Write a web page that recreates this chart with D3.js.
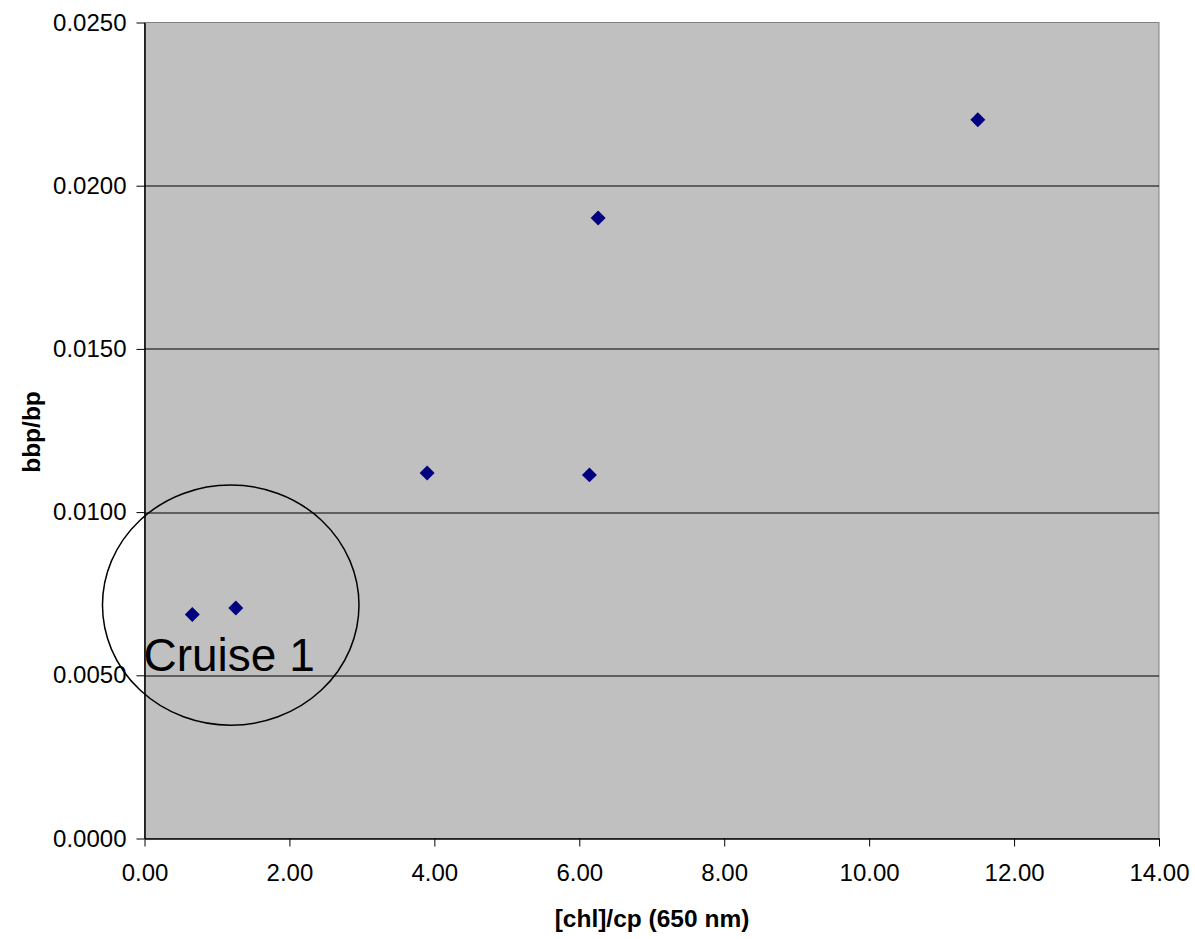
<!DOCTYPE html>
<html>
<head>
<meta charset="utf-8">
<script src="https://cdn.jsdelivr.net/npm/d3@7"></script>
<style>
  body { margin: 0; background: #fff; }
  text { font-family: "Liberation Sans", Arial, sans-serif; }
</style>
</head>
<body>
<svg width="1195" height="939"></svg>
<script>
var xValues = [0.66, 1.26, 3.90, 6.14, 6.26, 11.50];
var yValues = [0.00686, 0.00706, 0.01120, 0.01114, 0.01901, 0.02202];
var xTicks = [0, 2, 4, 6, 8, 10, 12, 14];
var yTicks = [0, 0.005, 0.01, 0.015, 0.02, 0.025];
var noteLabel = "Cruise 1";
var noteCenter = [1.19, 0.00715];
var noteRadius = [1.77, 0.00368];

var svg = d3.select("svg"),
    margin = { top: 22.5, right: 36, bottom: 100.5, left: 144.5 },
    width = +svg.attr("width") - margin.left - margin.right,
    height = +svg.attr("height") - margin.top - margin.bottom;

var x = d3.scaleLinear().domain([0, 14]).range([0, width]);
var y = d3.scaleLinear().domain([0, 0.025]).range([height, 0]);

var g = svg.append("g")
    .attr("transform", "translate(" + margin.left + "," + margin.top + ")");

// plot area
g.append("rect")
    .attr("width", width)
    .attr("height", height)
    .attr("fill", "#c0c0c0")
    .attr("stroke", "#808080")
    .attr("stroke-width", 1);

// gridlines
g.selectAll(".grid")
    .data(yTicks.filter(function (d) { return d > 0 && d < 0.025; }))
    .enter().append("line")
    .attr("x1", 0)
    .attr("x2", width)
    .attr("y1", function (d) { return Math.round(y(d)) + 0.5; })
    .attr("y2", function (d) { return Math.round(y(d)) + 0.5; })
    .attr("stroke", "#000")
    .attr("stroke-width", 1);

var xAxis = g.append("g")
    .attr("transform", "translate(0," + height + ")")
    .call(d3.axisBottom(x).tickValues(xTicks).tickFormat(d3.format(".2f")).tickSize(8).tickPadding(12).tickSizeOuter(0));

var yAxis = g.append("g")
    .call(d3.axisLeft(y).tickValues(yTicks).tickFormat(d3.format(".4f")).tickSize(8).tickPadding(10).tickSizeOuter(0));

[xAxis, yAxis].forEach(function (a) {
    a.select(".domain").attr("stroke", "#000").attr("stroke-width", 1.5);
    a.selectAll(".tick line").attr("stroke", "#000");
    a.selectAll(".tick text")
        .attr("fill", "#000")
        .style("font-size", "24px")
        .style("font-family", "'Liberation Sans', Arial, sans-serif");
});
xAxis.selectAll(".tick text").attr("dy", "0.95em");

// points
g.selectAll(".pt")
    .data(xValues.map(function (v, i) { return [v, yValues[i]]; }))
    .enter().append("path")
    .attr("class", "pt")
    .attr("d", d3.symbol().type(d3.symbolSquare).size(112))
    .attr("transform", function (d) {
        return "translate(" + x(d[0]) + "," + y(d[1]) + ") rotate(45)";
    })
    .attr("fill", "#000080");

// annotation
g.append("ellipse")
    .attr("cx", x(noteCenter[0]))
    .attr("cy", y(noteCenter[1]))
    .attr("rx", x(noteRadius[0]) - x(0))
    .attr("ry", y(0) - y(noteRadius[1]))
    .attr("fill", "none")
    .attr("stroke", "#000")
    .attr("stroke-width", 1.5);

g.append("text")
    .attr("x", x(0) - 1)
    .attr("y", y(0.00513))
    .style("font-size", "46px")
    .attr("fill", "#000")
    .text(noteLabel);

// axis titles
svg.append("text")
    .attr("x", 652)
    .attr("y", 927)
    .attr("text-anchor", "middle")
    .style("font-size", "24.5px")
    .style("font-weight", "bold")
    .text("[chl]/cp (650 nm)");

svg.append("text")
    .attr("transform", "translate(40,432) rotate(-90)")
    .attr("text-anchor", "middle")
    .style("font-size", "24.5px")
    .style("font-weight", "bold")
    .text("bbp/bp");
</script>
</body>
</html>
